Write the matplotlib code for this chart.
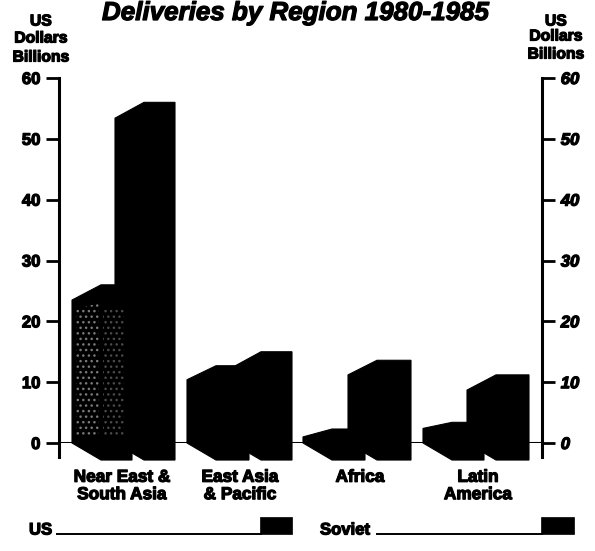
import matplotlib
matplotlib.use("Agg")
import matplotlib.pyplot as plt
import matplotlib.patheffects as pe
from matplotlib.patches import Polygon

W, H = 595, 551

categories = ["Near East &\nSouth Asia", "East Asia\n& Pacific", "Africa", "Latin\nAmerica"]
# value at the back edge of each block, and at its raised top
us_back = [23.5, 10.4, 1.0, 2.4]
us_top = [26.0, 12.7, 2.3, 3.4]
soviet_back = [53.4, 12.4, 11.2, 8.7]
soviet_top = [56.0, 15.0, 13.6, 11.2]
y_ticks = [0, 10, 20, 30, 40, 50, 60]

# group layout in pixels
us_left = [72, 187, 303, 423]
soviet_left = [115, 232, 348, 467]
soviet_right = [175, 292, 411, 529]
label_x = [122, 240, 360, 478]
depth = 29
drop = 2.8

plt.rcParams["font.family"] = ["Liberation Sans", "DejaVu Sans"]
fat = [pe.withStroke(linewidth=0.9, foreground="black")]

fig = plt.figure(figsize=(W / 100, H / 100), dpi=100)
ax = fig.add_axes([59 / W, 1 - 443 / H, (542 - 59) / W, (443 - 78) / H])
ax.set_xlim(59, 542)
ax.set_ylim(0, 60)
ax.patch.set_alpha(0)


def block(x0, x1, back, top, zorder):
    pts = [(x0, 0), (x0, back), (x0 + depth, top), (x1, top), (x1, -drop), (x0 + depth, -drop)]
    ax.add_patch(Polygon(pts, closed=True, fc="black", ec="black", lw=0.8, clip_on=False, zorder=zorder))


for i in range(len(categories)):
    block(soviet_left[i], soviet_right[i], soviet_back[i], soviet_top[i], 3)
    block(us_left[i], soviet_left[i] + 17, us_back[i], us_top[i], 4)
    ax.text(label_x[i], -4.4, categories[i], ha="center", va="top", fontsize=12.4, fontweight="bold",
            linespacing=1.2, path_effects=fat)

# speckled print texture on the first US block
ax.add_patch(Polygon([(76, 1), (76, 22), (99, 23), (99, 1)], closed=True, fc="none", ec="#7a7a7a",
                     lw=0, hatch="...", zorder=5, clip_on=False))
ax.add_patch(Polygon([(103, 1), (103, 22), (124, 22), (124, 1)], closed=True, fc="none", ec="#4a4a4a",
                     lw=0, hatch="...", zorder=5, clip_on=False))

ax.axhline(0, color="black", lw=2.2, zorder=2)
ax.set_yticks(y_ticks)
ax.set_xticks([])
ax.tick_params(axis="y", length=9.5, width=2.0, left=True, right=True, labelleft=True, labelright=True,
               pad=4, labelsize=12)
for tick in ax.yaxis.get_major_ticks():
    tick.label1.set_fontweight("bold")
    tick.label1.set_path_effects(fat)
    tick.label2.set_fontweight("bold")
    tick.label2.set_style("italic")
    tick.label2.set_path_effects(fat)
for s in ["top", "bottom"]:
    ax.spines[s].set_visible(False)
for s in ["left", "right"]:
    ax.spines[s].set_linewidth(2.2)
    ax.spines[s].set_bounds(-2.3, 60)


def px_text(x, y, s, **kw):
    fig.text(x / W, 1 - y / H, s, path_effects=fat, fontweight="bold", va="center", **kw)


px_text(296, 13, "Deliveries by Region 1980-1985", ha="center", fontsize=18.7, style="italic")
for x, ys in [(41, [21, 38, 57]), (556, [21, 36, 54])]:
    for y, s in zip(ys, ["US", "Dollars", "Billions"]):
        px_text(x, y, s, ha="center", fontsize=11.3)

# legend, drawn by hand as in the original
px_text(29, 530, "US", ha="left", fontsize=12)
px_text(320, 530, "Soviet", ha="left", fontsize=12)
for x0, x1 in [(57, 261), (377, 542)]:
    fig.add_artist(plt.Line2D([x0 / W, x1 / W], [1 - 534 / H] * 2, color="black", lw=1.4))
for x0, x1 in [(260, 292), (541, 574)]:
    fig.add_artist(plt.Rectangle((x0 / W, 1 - 534 / H), (x1 - x0) / W, 17 / H, fc="black", ec="black", lw=0.5,
                                 transform=fig.transFigure))

fig.savefig("out.png", dpi=100, facecolor="white")
